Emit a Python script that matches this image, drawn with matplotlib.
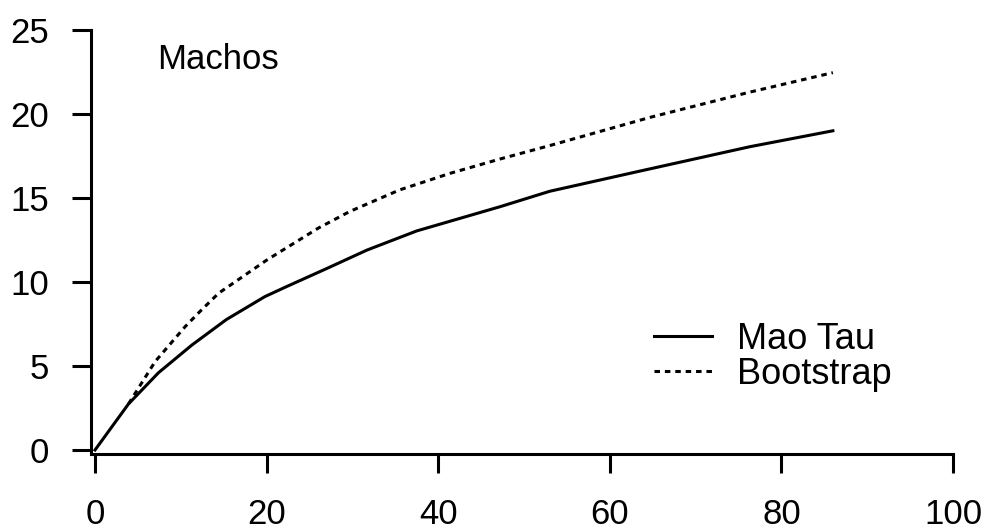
import matplotlib
matplotlib.use("Agg")
import matplotlib.pyplot as plt

plt.rcParams['font.family'] = ['Liberation Sans', 'DejaVu Sans']

# Data
mao_x = [0, 3.9, 7.4, 11.3, 15.3, 19.8, 22.3, 27.0, 31.7, 37.5, 47.2, 53.0, 63.5, 76.3, 86.0]
mao_y = [0, 2.74, 4.6, 6.25, 7.76, 9.13, 9.72, 10.8, 11.9, 13.04, 14.48, 15.4, 16.6, 18.05, 19.0]

boot_x = [3.9, 7.0, 10.5, 12.2, 14.4, 20.0, 26.0, 29.7, 35.5, 41.4, 47.2, 53.0, 64.7, 76.3, 86.0]
boot_y = [2.74, 5.26, 7.34, 8.23, 9.33, 11.3, 13.2, 14.2, 15.48, 16.47, 17.32, 18.12, 19.8, 21.3, 22.46]

xticks = [0, 20, 40, 60, 80, 100]
yticks = [0, 5, 10, 15, 20, 25]

fig = plt.figure(figsize=(9.94, 5.30), dpi=100)
ax = fig.add_axes([91/994, 1 - 454/530, (953 - 91)/994, (454 - 30)/530])

lw = 2.2
ax.plot(mao_x, mao_y, color='black', lw=lw, solid_joinstyle='round', label='Mao Tau')
ax.plot(boot_x, boot_y, color='black', lw=lw, linestyle=(0, (1.8, 1.6)), label='Bootstrap')

ax.set_xlim(-0.47, 100)
ax.set_ylim(-0.24, 25)
ax.set_xticks(xticks)
ax.set_yticks(yticks)
ax.set_xticklabels([str(t) for t in xticks])
ax.set_yticklabels([str(t) for t in yticks])

for s in ['top', 'right']:
    ax.spines[s].set_visible(False)
for s in ['left', 'bottom']:
    ax.spines[s].set_linewidth(lw)
ax.tick_params(axis='both', width=lw, length=14, labelsize=25, color='black')
ax.tick_params(axis='x', pad=18)
ax.tick_params(axis='y', pad=16)

ax.text(7.2, 22.7, 'Machos', fontsize=25, va='baseline', ha='left')

ax.legend(loc='lower right', bbox_to_anchor=(0.95, 0.1035), frameon=False,
          fontsize=26, handlelength=1.6, handletextpad=0.7, labelspacing=0.0,
          borderpad=0.0)

fig.savefig('out.png', dpi=100)
